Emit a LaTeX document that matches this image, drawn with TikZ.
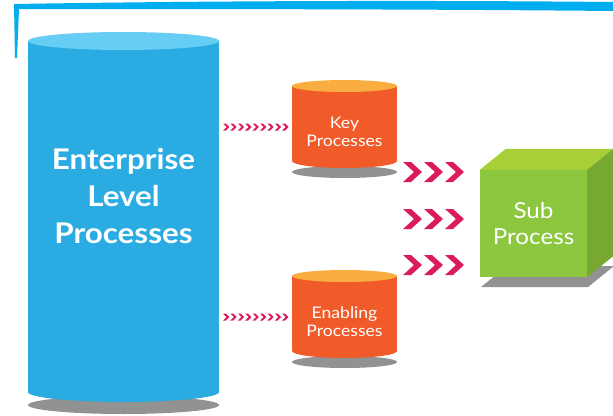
\documentclass[tikz,border=0pt]{standalone}
\usepackage{fontspec}
\setmainfont{Lato}[FakeStretch=1.1]
\usepackage{tikz}
\usetikzlibrary{positioning}
\definecolor{barblue}{HTML}{00AEEF}
\definecolor{drumblue}{HTML}{2AACE2}
\definecolor{drumbluetop}{HTML}{66CDF5}
\definecolor{drumorange}{HTML}{F15A29}
\definecolor{drumorangetop}{HTML}{FBAE40}
\definecolor{chevronred}{HTML}{DA1C5C}
\definecolor{cubefront}{HTML}{8DC63F}
\definecolor{cubetop}{HTML}{A8CF38}
\definecolor{cubeside}{HTML}{76A832}
\definecolor{shadowgray}{HTML}{929292}

\tikzset{
  bigtext/.style={text=white, align=center, font=\fontsize{28.5}{37}\selectfont\bfseries},
  smalltext/.style={text=white, align=center, font=\fontsize{16}{18}\selectfont},
  subtext/.style={text=white, align=center, font=\fontsize{22}{26}\selectfont},
  smallchev/.style={fill=chevronred},
  bigchev/.style={fill=chevronred},
}

\begin{document}
\begin{tikzpicture}[x=1pt, y=-1pt]
            \useasboundingbox (0,0) rectangle (613,415);
            \clip (0,0) rectangle (613,415);

            % top bracket
            \fill[barblue] (14,4) .. controls (200,1) and (400,0) .. (613,2)
                -- (613,11) .. controls (400,9) and (200,9) .. (19,9)
                -- (17,58) -- (15,58) -- cycle;

            % enterprise drum
            \fill[shadowgray] (123.5,405) ellipse [x radius=95.5, y radius=9];
            \fill[drumblue] (28,41) rectangle (219,392);
            \fill[drumblue] (123.5,392) ellipse [x radius=95.5, y radius=10];
            \fill[drumbluetop] (123.5,41) ellipse [x radius=95.5, y radius=9];
            \node[bigtext] (enterprise) at (123.5,196) {Enterprise\\Level\\Processes};

            % key and enabling drums
            \foreach \name/\top/\txt in {key/86/Key, enabling/276/Enabling} {
              \fill[shadowgray] (344.5,\top+86) ellipse [x radius=52.5, y radius=6];
              \fill[drumorange] (292,\top) rectangle (397,\top+75);
              \fill[drumorange] (344.5,\top+75) ellipse [x radius=52.5, y radius=7];
              \fill[drumorangetop] (344.5,\top) ellipse [x radius=52.5, y radius=6];
              \node[smalltext] (\name) at (344.5,\top+46) {\txt\\Processes};
            }

            % small chevrons
            \foreach \y in {127, 317} {
              \foreach \i in {0,...,8} {
                \fill[smallchev] ([xshift=\i*7.4pt]223,\y-3.5) -- ++(2.8,0) -- ++(3.5,3.5)
                  -- ++(-3.5,3.5) -- ++(-2.8,0) -- ++(3.5,-3.5) -- cycle;
              }
            }

            % big chevrons
            \foreach \y in {172, 219, 265} {
              \foreach \i in {0,1,2} {
                \fill[bigchev] ([xshift=\i*21pt]403,\y-10) -- ++(8,0) -- ++(11,10)
                  -- ++(-11,10) -- ++(-8,0) -- ++(11,-10) -- cycle;
              }
            }

            % sub process cube
            \fill[shadowgray] (481,287) -- (588,287) -- (614,266) -- (507,266) -- cycle;
            \node[fill=cubefront, minimum width=107pt, minimum height=107pt, inner sep=0pt] (sub) at (533.5,223.5) {};
            \fill[cubetop] (sub.north west) -- ++(26,-21) -- ([shift={(26,-21)}]sub.north east) -- (sub.north east) -- cycle;
            \fill[cubeside] (sub.north east) -- ++(26,-21) -- ([shift={(26,-21)}]sub.south east) -- (sub.south east) -- cycle;
            \node[subtext] at (sub) {Sub\\Process};
        \end{tikzpicture}
\end{document}
